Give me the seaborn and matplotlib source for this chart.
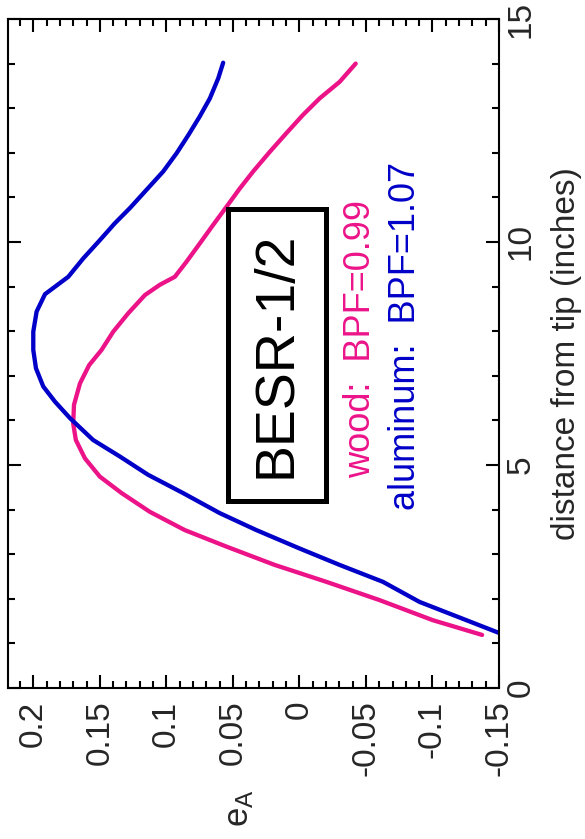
import matplotlib
matplotlib.use("Agg")
import matplotlib.pyplot as plt
from matplotlib.ticker import MultipleLocator, FixedLocator
import seaborn as sns
import pandas as pd

# ---------------- data ----------------
alu_dist = [1.20, 1.93, 2.38, 2.76, 3.13, 3.54, 3.92, 4.37, 4.78, 5.19, 5.56,
            6.05, 6.42, 6.76, 7.17, 7.58, 7.99, 8.44, 8.83, 9.22, 9.63, 10.04, 10.42,
            10.76, 11.17, 11.58, 11.99, 12.40, 12.81, 13.22, 13.67, 14.02]
alu_eA = [-0.153, -0.0903, -0.0628, -0.0302, 0.0, 0.0323, 0.0598, 0.0874,
          0.1137, 0.1349, 0.155, 0.1724, 0.1837, 0.1925, 0.198, 0.200, 0.200, 0.1975,
          0.1912, 0.1737, 0.1625, 0.150, 0.1387, 0.1274, 0.1149, 0.1024, 0.0923,
          0.0834, 0.075, 0.0673, 0.061, 0.0573]

wood_dist = [1.19, 1.52, 1.97, 2.38, 2.76, 3.17, 3.54, 3.95, 4.37, 4.74, 5.15, 5.56,
             5.93, 6.35, 6.83, 7.24, 7.58, 7.99, 8.40, 8.81, 9.04, 9.22, 9.56, 9.97,
             10.38, 10.79, 11.20, 11.58, 12.02, 12.44, 12.85, 13.22, 13.59, 14.00]
wood_eA = [-0.1373, -0.1003, -0.0603, -0.0203, 0.0186, 0.0548, 0.0861, 0.1124, 0.1336,
           0.150, 0.1612, 0.168, 0.170, 0.1694, 0.1649, 0.158, 0.1487, 0.1399, 0.1287,
           0.1161, 0.1049, 0.0936, 0.0848, 0.0748, 0.0649, 0.0548, 0.0448, 0.0348,
           0.0223, 0.0098, -0.0027, -0.0152, -0.0302, -0.0423]

eA_ticks = [0.2, 0.15, 0.1, 0.05, 0.0, -0.05, -0.1, -0.15]
eA_labels = ["0.2", "0.15", "0.1", "0.05", "0", "-0.05", "-0.1", "-0.15"]
dist_ticks = [0, 5, 10, 15]
dist_labels = ["0", "5", "10", "15"]

title_text = "BESR-1/2"
wood_text = "wood:  BPF=0.99"
alu_text = "aluminum:  BPF=1.07"

PINK = "#ec1389"
BLUE = "#0000c8"

# ---------------- style ----------------
sns.set_style("ticks")
plt.rcParams["font.family"] = ["Liberation Sans", "DejaVu Sans"]
plt.rcParams["axes.unicode_minus"] = False
plt.rcParams["mathtext.default"] = "regular"

fig = plt.figure(figsize=(5.85, 8.39), dpi=100)
W, H = 585, 839
ax = fig.add_axes([8 / W, (H - 688) / H, 491 / W, 669 / H])

df_alu = pd.DataFrame({"eA": alu_eA, "dist": alu_dist})
df_wood = pd.DataFrame({"eA": wood_eA, "dist": wood_dist})
sns.lineplot(data=df_wood, x="eA", y="dist", sort=False, estimator=None,
             color=PINK, lw=3.1, ax=ax)
sns.lineplot(data=df_alu, x="eA", y="dist", sort=False, estimator=None,
             color=BLUE, lw=3.1, ax=ax)

ax.set_xlim(0.219, -0.15)
ax.set_ylim(0, 15)

ax.xaxis.set_major_locator(FixedLocator(eA_ticks))
ax.set_xticklabels(eA_labels)
ax.xaxis.set_minor_locator(MultipleLocator(0.01))
ax.yaxis.set_major_locator(FixedLocator(dist_ticks))
ax.set_yticklabels(dist_labels)
ax.yaxis.set_minor_locator(MultipleLocator(1))

for s in ax.spines.values():
    s.set_linewidth(1.5)
    s.set_color("black")

ax.tick_params(which="both", direction="in", top=True, bottom=True, left=True,
               right=True, labelleft=False, labelright=True, labelbottom=True,
               labeltop=False, width=1.5, color="black")
ax.tick_params(which="major", length=9.5)
ax.tick_params(which="minor", length=5)
ax.tick_params(axis="x", which="major", labelsize=24, labelrotation=90, pad=9)
ax.tick_params(axis="y", which="major", labelsize=24, labelrotation=90, pad=5)
for t in ax.get_yticklabels():
    t.set_va("center")

ax.set_xlabel("$e_A$", fontsize=25, rotation=90, va="center", ha="center")
ax.xaxis.set_label_coords((239 - 8) / 491, (688 - 808) / 669)
ax.yaxis.set_label_position("right")
ax.set_ylabel("distance from tip (inches)", fontsize=24, rotation=90,
              va="center", ha="center")
ax.yaxis.set_label_coords((567 - 8) / 491, 0.5)

# annotations
ax.text(0.017, 7.47, title_text, rotation=90, fontsize=40, ha="center",
        va="center", color="black",
        bbox=dict(boxstyle="square,pad=0.41", fc="white", ec="black", lw=3.6))
ax.text(-0.0528, 4.71, wood_text, rotation=90, rotation_mode="anchor",
        ha="left", va="baseline", fontsize=26, color=PINK)
ax.text(-0.0866, 3.99, alu_text, rotation=90, rotation_mode="anchor",
        ha="left", va="baseline", fontsize=26, color=BLUE)

fig.savefig("out.png", dpi=100, facecolor="white")
